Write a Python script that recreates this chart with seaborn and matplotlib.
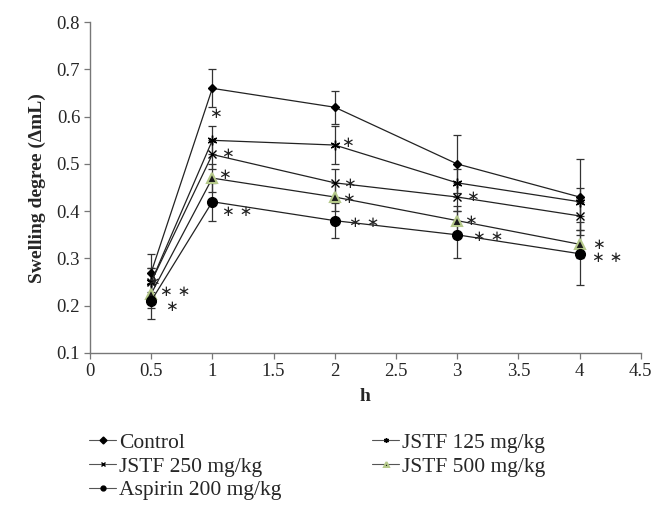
import matplotlib
matplotlib.use("Agg")
import matplotlib.pyplot as plt
import seaborn as sns
import pandas as pd

hours = [0.5, 1, 2, 3, 4]
series_names = ["Control", "JSTF 125 mg/kg", "JSTF 250 mg/kg", "JSTF 500 mg/kg", "Aspirin 200 mg/kg"]
control = [0.27, 0.66, 0.62, 0.50, 0.43]
jstf125 = [0.25, 0.55, 0.54, 0.46, 0.42]
jstf250 = [0.25, 0.52, 0.46, 0.43, 0.39]
jstf500 = [0.225, 0.47, 0.43, 0.38, 0.33]
aspirin = [0.21, 0.42, 0.38, 0.35, 0.31]
err_control = [0.04, 0.04, 0.035, 0.062, 0.08]
err_125 = [0.03, 0.03, 0.04, 0.03, 0.03]
err_250 = [0.03, 0.03, 0.03, 0.03, 0.03]
err_500 = [0.03, 0.03, 0.03, 0.03, 0.03]
err_aspirin = [0.038, 0.04, 0.037, 0.05, 0.067]

# significance marks
sig_x = [0.57, 0.61, 0.47, 0.97, 1.07, 1.05, 1.08, 2.05, 2.07, 2.06, 2.12, 3.07, 3.06, 3.13, 4.1, 4.1]
sig_y = [0.231, 0.198, 0.252, 0.606, 0.522, 0.477, 0.40, 0.546, 0.459, 0.426, 0.377, 0.431, 0.38, 0.347, 0.330, 0.301]
sig_t = ["∗ ∗", "∗", "∗", "∗", "∗", "∗", "∗ ∗", "∗", "∗", "∗", "∗ ∗", "∗", "∗", "∗ ∗", "∗", "∗ ∗"]

values = [control, jstf125, jstf250, jstf500, aspirin]
errors = [err_control, err_125, err_250, err_500, err_aspirin]

sns.set_theme(style="white")
plt.rcParams["font.family"] = ["Liberation Serif", "DejaVu Serif"]

fig = plt.figure(figsize=(6.71, 5.16), dpi=100)
ax = fig.add_axes([0.134, 0.316, 0.821, 0.641])

styles = {
    "Control": dict(marker="D", ms=4.5, mfc="black", mec="black"),
    "JSTF 125 mg/kg": dict(marker=(6, 2, 0), ms=7, mfc="black", mec="black"),
    "JSTF 250 mg/kg": dict(marker="x", ms=6, mfc="black", mec="black"),
    "JSTF 500 mg/kg": dict(marker="^", ms=7, mfc="#1a1a1a", mec="#b5c98a"),
    "Aspirin 200 mg/kg": dict(marker="o", ms=7, mfc="black", mec="black"),
}

rows = []
for name, vals in zip(series_names, values):
    for h, v in zip(hours, vals):
        rows.append({"h": h, "val": v, "series": name})
df = pd.DataFrame(rows)

for name, vals, errs in zip(series_names, values, errors):
    ax.errorbar(hours, vals, yerr=errs, fmt="none", ecolor="#333333",
                elinewidth=0.9, capsize=3, capthick=0.9, zorder=2)
    st = styles[name]
    sns.lineplot(data=df[df.series == name], x="h", y="val", ax=ax,
                 color="#222222", linewidth=0.9, marker=st["marker"],
                 markersize=st["ms"], markerfacecolor=st["mfc"],
                 markeredgecolor=st["mec"], markeredgewidth=1.5 if name == "JSTF 500 mg/kg" else 1.0,
                 label=name, zorder=3)

for x, y, t in zip(sig_x, sig_y, sig_t):
    ax.text(x, y, t, fontsize=11, ha="left", va="center", color="#222222",
            family=["DejaVu Sans"])

ax.set_xlim(0, 4.5)
ax.set_ylim(0.1, 0.8)
ax.set_xticks([0, 0.5, 1, 1.5, 2, 2.5, 3, 3.5, 4, 4.5])
ax.set_xticklabels(["0", "0.5", "1", "1.5", "2", "2.5", "3", "3.5", "4", "4.5"])
ax.set_yticks([0.1, 0.2, 0.3, 0.4, 0.5, 0.6, 0.7, 0.8])
ax.set_yticklabels(["0.1", "0.2", "0.3", "0.4", "0.5", "0.6", "0.7", "0.8"])
ax.tick_params(axis="both", direction="out", length=4, width=0.9, color="#777777",
               labelsize=13.5, bottom=True, left=True, pad=3)
for s in ["top", "right"]:
    ax.spines[s].set_visible(False)
for s in ["left", "bottom"]:
    ax.spines[s].set_color("#777777")
    ax.spines[s].set_linewidth(1.0)

ax.set_xlabel("h", fontsize=14, fontweight="bold", labelpad=6)
ax.set_ylabel("Swelling degree (ΔmL)", fontsize=14, fontweight="bold", labelpad=8)

h, l = ax.get_legend_handles_labels()
order = ["Control", "JSTF 250 mg/kg", "Aspirin 200 mg/kg", "JSTF 125 mg/kg", "JSTF 500 mg/kg"]
hd = dict(zip(l, h))
leg = fig.legend([hd[o] for o in order], order, loc="upper left",
                 bbox_to_anchor=(0.12, 0.178), ncol=2, frameon=False,
                 fontsize=15.5, handlelength=1.25, handletextpad=0.15,
                 columnspacing=4.2, labelspacing=0.17, borderaxespad=0)
for lh in leg.legend_handles:
    lh.set_markersize(3.5)
    lh.set_linewidth(0.8)
    lh.set_color("#555555")
    lh.set_markerfacecolor("black")
if ax.get_legend() is not None:
    ax.get_legend().remove()

fig.savefig("out.png", dpi=100)
